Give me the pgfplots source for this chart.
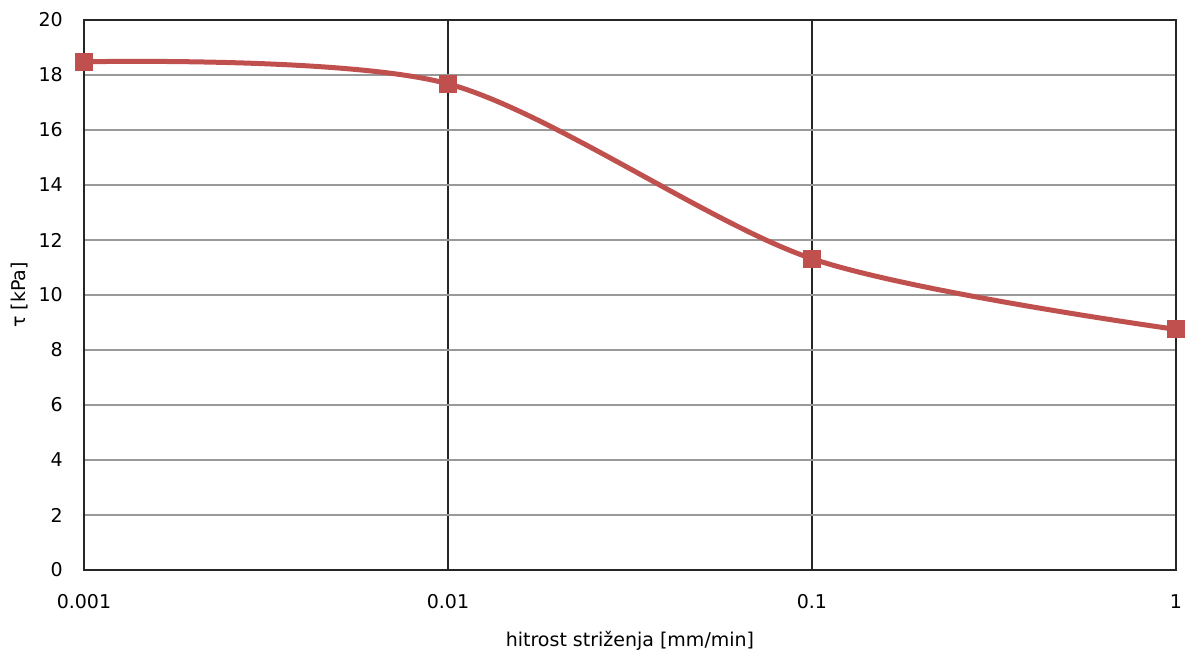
\documentclass[border=0pt]{standalone}
\usepackage{pgfplots}
\pgfplotsset{compat=1.18}
\usepackage{fontspec}
\setmainfont{DejaVu Sans}
\definecolor{series}{HTML}{C0504D}
\begin{document}
\fontsize{19pt}{22pt}\selectfont
\begin{tikzpicture}[x=1pt,y=1pt]
\useasboundingbox (0,0) rectangle (1186,650);
\begin{axis}[
  at={(84pt,80pt)}, anchor=south west,
  scale only axis, width=1092pt, height=550pt,
  xmode=log, xmin=0.001, xmax=1, ymin=0, ymax=20,
  xtick={0.001,0.01,0.1,1}, xticklabels={0.001,0.01,0.1,1},
  ytick={0,2,...,20},
  /pgf/number format/assume math mode=true,
  grid=major,
  x grid style={black!85, line width=1.2pt},
  y grid style={black!40, line width=1.2pt},
  axis line style={black!85, line width=1.4pt},
  major tick length=0pt, minor tick length=0pt,
  tick label style={font=\fontsize{19pt}{22pt}\selectfont, text=black},
  xticklabel style={anchor=base, inner sep=0pt, yshift=-39pt},
  yticklabel style={anchor=east, inner sep=0pt, xshift=-21pt},
  xlabel={hitrost striženja [mm/min]},
  ylabel={τ [kPa]},
  label style={font=\fontsize{19pt}{22pt}\selectfont},
  xlabel style={at={(axis description cs:0.5,0)}, anchor=base, inner sep=0pt, yshift=-77pt},
  ylabel style={at={(axis description cs:0,0.5)}, anchor=center, inner sep=0pt, yshift=64pt},
  clip=false,
]
\addplot[series, line width=5pt, smooth, tension=0.5, mark=square*, mark size=8.5pt, mark options={solid, fill=series, draw=series, line width=0pt}]
  coordinates {(0.001,18.48) (0.01,17.68) (0.1,11.32) (1,8.75)};
\end{axis}
\end{tikzpicture}
\end{document}
